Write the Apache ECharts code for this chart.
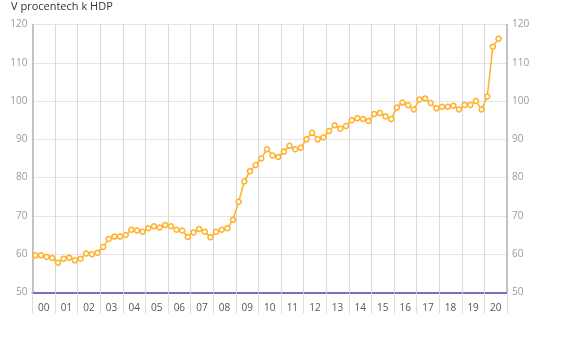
<!DOCTYPE html>
<html>
<head>
<meta charset="utf-8">
<script src="https://cdn.jsdelivr.net/npm/echarts@6/dist/echarts.min.js"></script>
<style>
  html, body { margin: 0; padding: 0; background: #fff; }
  #chart { width: 565px; height: 349px; }
</style>
</head>
<body>
<div id="chart"></div>
<script>
// roky na ose x (jeden popisek na rok)
const years = ['00', '01', '02', '03', '04', '05', '06', '07', '08', '09', '10',
  '11', '12', '13', '14', '15', '16', '17', '18', '19', '20'];
const quarters = [];
years.forEach(y => {
  for (let q = 1; q <= 4; q++) quarters.push(y + 'Q' + q);
});

// hodnoty po ctvrtletich, 2000Q1 - 2020Q3
const values = [
  59.7, 59.7, 59.3, 59.0,
  57.8, 58.8, 59.1, 58.4,
  58.8, 60.2, 60.0, 60.4,
  61.9, 64.0, 64.6, 64.6,
  65.0, 66.4, 66.2, 65.9,
  66.8, 67.3, 67.0, 67.6,
  67.3, 66.4, 66.2, 64.5,
  65.7, 66.6, 65.9, 64.4,
  65.9, 66.4, 66.8, 69.0,
  73.7, 79.0, 81.7, 83.3,
  85.0, 87.4, 85.8, 85.4,
  86.8, 88.3, 87.4, 87.8,
  90.0, 91.7, 90.0, 90.5,
  92.2, 93.7, 92.8, 93.5,
  95.0, 95.5, 95.3, 94.8,
  96.6, 96.9, 96.0, 95.3,
  98.3, 99.6, 98.9, 97.8,
  100.4, 100.7, 99.5, 98.1,
  98.5, 98.5, 98.8, 97.8,
  99.0, 99.0, 100.0, 97.8,
  101.2, 114.2, 116.3
];

const yTicks = { min: 50, max: 120, interval: 10 };

const chart = echarts.init(document.getElementById('chart'));

const yLabel = { color: '#999', fontSize: 10, fontFamily: 'Open Sans' };

chart.setOption({
  animation: false,
  title: {
    text: 'V procentech k HDP',
    left: 6,
    top: -4,
    textStyle: { fontSize: 11, fontWeight: 'normal', color: '#333', fontFamily: 'Open Sans' }
  },
  grid: { left: 32.5, right: 58, top: 24.5, bottom: 56.5 },
  xAxis: [
    {
      type: 'category',
      data: quarters,
      boundaryGap: true,
      show: false
    },
    {
      type: 'category',
      data: years,
      position: 'bottom',
      boundaryGap: true,
      axisLine: { show: true, lineStyle: { color: '#7373c4', width: 2 } },
      axisTick: { show: true, interval: 0, length: 21, lineStyle: { color: '#ddd' } },
      axisLabel: { interval: 0, margin: 11, color: '#555', fontSize: 10, fontFamily: 'Open Sans' },
      splitLine: { show: true, interval: 0, lineStyle: { color: '#d9d9d9' } }
    }
  ],
  yAxis: [
    {
      type: 'value',
      position: 'left',
      min: yTicks.min, max: yTicks.max, interval: yTicks.interval,
      axisLine: { show: true, lineStyle: { color: '#b5b5b5', width: 1.5 } },
      axisTick: { show: false },
      axisLabel: Object.assign({ margin: 5 }, yLabel),
      splitLine: { show: true, lineStyle: { color: '#e6e6e6' } }
    },
    {
      type: 'value',
      position: 'right',
      min: yTicks.min, max: yTicks.max, interval: yTicks.interval,
      axisLine: { show: true, lineStyle: { color: '#b5b5b5', width: 1.5 } },
      axisTick: { show: false },
      axisLabel: Object.assign({ margin: 5 }, yLabel),
      splitLine: { show: false }
    }
  ],
  series: [
    {
      type: 'line',
      xAxisIndex: 0,
      yAxisIndex: 0,
      data: values,
      symbol: 'circle',
      symbolSize: 5,
      showAllSymbol: true,
      lineStyle: { color: '#ffb12b', width: 1.5 },
      itemStyle: { color: '#fff', borderColor: '#ffb12b', borderWidth: 1.5 },
      z: 5
    }
  ]
});
</script>
</body>
</html>
